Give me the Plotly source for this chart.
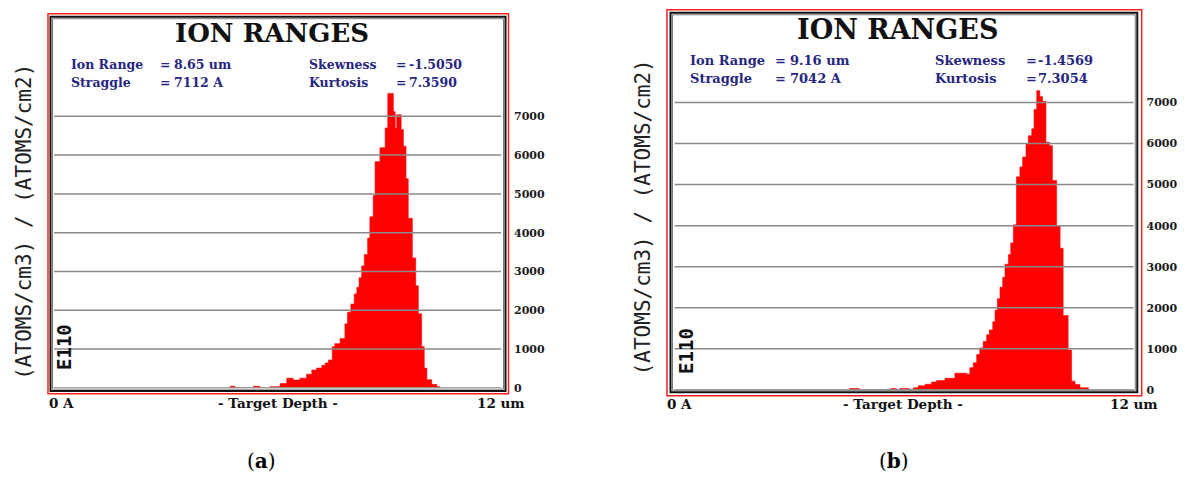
import plotly.graph_objects as go

W, H = 1185, 488

# ---------------- data ----------------
y_ticks = [0, 1000, 2000, 3000, 4000, 5000, 6000, 7000]
x_range_um = [0, 12]

stat_names = ["Ion Range", "Straggle", "Skewness", "Kurtosis"]
stats_a = ["8.65 um", "7112 A", "-1.5050", "7.3590"]
stats_b = ["9.16 um", "7042 A", "-1.4569", "7.3054"]

# (a) step histogram: bin start depth (um) and concentration
depth_a = [4.72, 4.86, 5.35, 5.53, 5.80, 6.07, 6.25, 6.42, 6.60, 6.78, 6.92, 7.05,
           7.19, 7.28, 7.37, 7.47, 7.54, 7.68, 7.81, 7.88, 7.97, 8.06, 8.13, 8.19,
           8.26, 8.33, 8.42, 8.48, 8.57, 8.62, 8.75, 8.82, 8.89, 8.96, 9.11, 9.16,
           9.20, 9.32, 9.38, 9.45, 9.51, 9.62, 9.71, 9.78, 9.87, 9.94, 10.01, 10.14,
           10.28, 10.36]
conc_a = [40, 0, 40, 0, 30, 110, 250, 200, 250, 350, 460, 510,
          580, 640, 720, 1060, 1140, 1270, 1650, 1950, 2160, 2420, 2590, 2840,
          3140, 3440, 3860, 4410, 4960, 5830, 6190, 6190, 6700, 7590, 7120, 6700,
          7040, 6660, 6230, 5390, 4370, 3350, 2630, 1910, 1060, 510, 210, 85,
          30, 0]

# (b)
depth_b = [4.57, 4.83, 5.65, 5.80, 5.89, 6.14, 6.24, 6.37, 6.55, 6.72, 6.85, 7.07,
           7.33, 7.64, 7.72, 7.81, 7.90, 7.98, 8.07, 8.16, 8.23, 8.32, 8.38, 8.44,
           8.51, 8.58, 8.64, 8.73, 8.79, 8.86, 8.94, 9.03, 9.10, 9.19, 9.25, 9.34,
           9.40, 9.47, 9.55, 9.62, 9.71, 9.80, 9.88, 9.99, 10.08, 10.16, 10.29, 10.38,
           10.47, 10.60, 10.82]
conc_b = [30, 0, 30, 0, 30, 0, 50, 100, 135, 190, 225, 280,
          405, 380, 540, 660, 860, 1020, 1180, 1340, 1460, 1660, 1940, 2220,
          2500, 2740, 3060, 3300, 3580, 4020, 5190, 5430, 5670, 5990, 6190, 6360,
          6830, 7290, 7150, 7030, 6030, 5950, 5100, 4000, 3450, 1810, 970, 210,
          130, 50, 0]

# ---------------- layout helpers (pixels -> paper) ----------------
def px(x):
    return x / W

def py(y):
    return 1 - y / H

RED = "#ff0000"
NAVY = "#262680"
GRID = "#8a8a8a"
SERIF = "DejaVu Serif"
MONO = "DejaVu Sans Mono"

panels = [
    dict(depth=depth_a, conc=conc_a, stats=stats_a, xa="x", ya="y",
         plot=(54, 501, 393.5, 39.36), red=(48, 508.5, 14, 399.5), blk=(50.5, 505.5, 17, 396.8),
         title=(272, 33, 26), st_x=(68.9, 157.7, 172.2, 306.5, 394.3, 406.5), st_y=(65, 83.3), st_fs=12.5,
         ylab=(24, 225), e110=(64, 352), bot=(46.5, 278, 527, 408.5), cap=(261, "a")),
    dict(depth=depth_b, conc=conc_b, stats=stats_b, xa="x2", ya="y2",
         plot=(674.6, 1133.5, 395.5, 41.64), red=(667, 1141.7, 10, 401.5), blk=(670.5, 1137.3, 13, 398),
         title=(897.6, 30, 27), st_x=(688.4, 773.0, 788.0, 933.2, 1024.3, 1035.5), st_y=(61.7, 80), st_fs=13,
         ylab=(643, 220.5), e110=(686, 356), bot=(665, 903, 1159.7, 410), cap=(894, "b")),
]

fig = go.Figure()
shapes = []
annotations = []
layout_axes = {}

for i, p in enumerate(panels):
    x0, x1, y0px, per1000 = p["plot"]
    ymax = 8000
    ytop_px = y0px - ymax / 1000 * per1000
    sfx = "" if i == 0 else "2"

    fig.add_trace(go.Scatter(
        x=p["depth"], y=p["conc"], mode="lines", line=dict(color=RED, width=0.6, shape="hv"),
        fill="tozeroy", fillcolor=RED, xaxis=p["xa"], yaxis=p["ya"], showlegend=False,
        hoverinfo="skip"))

    layout_axes["xaxis" + sfx] = dict(domain=[px(x0), px(x1)], range=x_range_um, visible=False,
                                      anchor=p["ya"], fixedrange=True)
    layout_axes["yaxis" + sfx] = dict(domain=[py(y0px), py(ytop_px)], range=[0, ymax], anchor=p["xa"],
                                      side="right", tickvals=y_ticks, ticktext=[str(v) for v in y_ticks],
                                      showgrid=False, zeroline=False, showline=False, ticks="",
                                      ticklabelstandoff=12,
                                      tickfont=dict(family=SERIF, size=11, color="#1a1a1a", weight="bold"))

    # gridlines drawn above the histogram
    for v in y_ticks:
        shapes.append(dict(type="line", xref=p["xa"] + " domain", x0=0, x1=1, yref=p["ya"], y0=v, y1=v,
                           line=dict(color=GRID, width=1.5), layer="above"))

    # frames
    rx0, rx1, ry0, ry1 = p["red"]
    shapes.append(dict(type="rect", xref="paper", yref="paper", x0=px(rx0), x1=px(rx1), y0=py(ry1), y1=py(ry0),
                       line=dict(color="#ff2020", width=1.5), layer="above"))
    bx0, bx1, by0, by1 = p["blk"]
    shapes.append(dict(type="rect", xref="paper", yref="paper", x0=px(bx0), x1=px(bx1), y0=py(by1), y1=py(by0),
                       line=dict(color="#111111", width=2), layer="above"))
    shapes.append(dict(type="rect", xref="paper", yref="paper", x0=px(bx0 + 2), x1=px(bx1 - 2),
                       y0=py(by1 - 2), y1=py(by0 + 2),
                       line=dict(color="#777777", width=1), layer="above"))

    # title
    tx, ty, tfs = p["title"]
    annotations.append(dict(text="ION RANGES", x=px(tx), y=py(ty), xref="paper", yref="paper",
                            showarrow=False, xanchor="center", yanchor="middle",
                            font=dict(family=SERIF, size=tfs, color="#111111", weight="bold")))

    # stats
    lx, eqx, vx, lx2, eqx2, vx2 = p["st_x"]
    r1, r2 = p["st_y"]
    fs = p["st_fs"]
    sf = dict(family=SERIF, size=fs, color=NAVY, weight="bold")
    entries = [
        (stat_names[0], lx, r1), ("=", eqx, r1), (p["stats"][0], vx, r1),
        (stat_names[1], lx, r2), ("=", eqx, r2), (p["stats"][1], vx, r2),
        (stat_names[2], lx2, r1), ("=", eqx2, r1), (p["stats"][2], vx2, r1),
        (stat_names[3], lx2, r2), ("=", eqx2, r2), (p["stats"][3], vx2, r2),
    ]
    for t, xx, yy in entries:
        annotations.append(dict(text=t, x=px(xx), y=py(yy), xref="paper", yref="paper", showarrow=False,
                                xanchor="left", yanchor="middle", font=sf))

    # y-axis title (rotated)
    lxp, lyp = p["ylab"]
    annotations.append(dict(text="(ATOMS/cm3) / (ATOMS/cm2)", x=px(lxp), y=py(lyp), xref="paper", yref="paper",
                            showarrow=False, textangle=-90, xanchor="center", yanchor="middle",
                            font=dict(family=MONO, size=21, color="#222222")))
    ex, ey = p["e110"]
    annotations.append(dict(text="E110", x=px(ex), y=py(ey), xref="paper", yref="paper",
                            showarrow=False, textangle=-90, xanchor="center", yanchor="middle",
                            font=dict(family=MONO, size=19, color="#111111", weight="bold")))

    # bottom labels
    b0, bc, b1, by = p["bot"]
    bf = dict(family=SERIF, size=13.5, color="#111111", weight="bold")
    annotations.append(dict(text="0 A", x=px(b0), y=py(by), xref="paper", yref="paper", showarrow=False,
                            xanchor="left", yanchor="middle", font=bf))
    annotations.append(dict(text="- Target Depth -", x=px(bc), y=py(by), xref="paper", yref="paper",
                            showarrow=False, xanchor="center", yanchor="middle", font=bf))
    annotations.append(dict(text="12 um", x=px(b1), y=py(by), xref="paper", yref="paper", showarrow=False,
                            xanchor="right", yanchor="middle", font=bf))

    # caption
    cx, letter = p["cap"]
    annotations.append(dict(text="(<b>" + letter + "</b>)", x=px(cx), y=py(468), xref="paper", yref="paper",
                            showarrow=False, xanchor="center", yanchor="middle",
                            font=dict(family=SERIF, size=20, color="#000000")))

fig.update_layout(
    width=W, height=H, margin=dict(l=0, r=0, t=0, b=0),
    paper_bgcolor="white", plot_bgcolor="white",
    shapes=shapes, annotations=annotations, showlegend=False,
    **layout_axes,
)

fig.write_html("out.html")
